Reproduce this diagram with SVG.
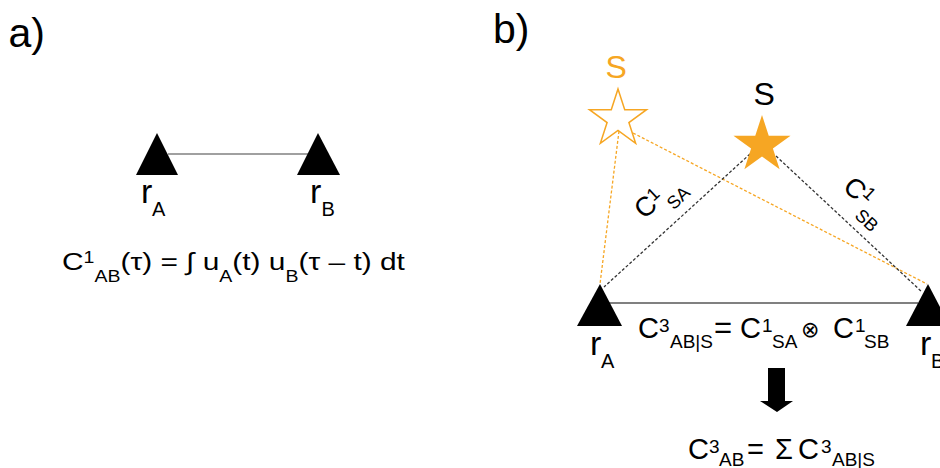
<svg xmlns="http://www.w3.org/2000/svg" width="940" height="468" viewBox="0 0 940 468">
<defs>
<style>
text{font-family:"Liberation Sans","DejaVu Sans",sans-serif;fill:#000}
.panel{font-size:41px}
.r{font-size:34px}
.rs{font-size:20px}
.m{font-size:29px}
.s{font-size:19px}
.orange{fill:#f6a623}
.dash-k{stroke:#333;stroke-width:1.3;stroke-dasharray:3 2;fill:none}
.dash-o{stroke:#f6a623;stroke-width:1.3;stroke-dasharray:3 2;fill:none}
.solid{stroke:#808080;fill:none}
.tri{fill:#000}
</style>
<path id="star" d="M0,-30 L6.74,-9.27 L28.53,-9.27 L10.9,3.54 L17.63,24.27 L0,11.46 L-17.63,24.27 L-10.9,3.54 L-28.53,-9.27 L-6.74,-9.27 Z"/>
</defs>
<rect width="940" height="468" fill="#fff"/>

<text id="label-a" class="panel" x="8.5" y="47">a)</text>
<text id="label-b" class="panel" x="493" y="43">b)</text>

<g id="connectors">
  <path class="solid" stroke-width="1.5" d="M168,154 H308"/>
  <path class="solid" stroke-width="2" d="M608,303 H918"/>
  <path class="dash-o" d="M619,131 L600,284"/>
  <path class="dash-o" d="M633,133 L927,284"/>
  <path class="dash-k" d="M750,154 L604,287"/>
  <path class="dash-k" d="M776,156 L922,292"/>
</g>

<g id="node-rA-a">
  <path class="tri" d="M157,133 L178,175 L136,175 Z"/>
  <text class="r" x="141" y="203">r<tspan class="rs" x="152" y="216">A</tspan></text>
</g>
<g id="node-rB-a">
  <path class="tri" d="M318,133 L340,175 L297,175 Z"/>
  <text class="r" x="310" y="203">r<tspan class="rs" x="321.5" y="216">B</tspan></text>
</g>

<g id="formula-a" transform="translate(62,270) scale(1.22,1)">
  <text font-size="24.5" x="0" y="0">C<tspan font-size="16" y="-7">1</tspan><tspan font-size="16" y="12">AB</tspan><tspan y="0">(τ) = ∫ u</tspan><tspan font-size="16" y="12">A</tspan><tspan y="0">(t) u</tspan><tspan font-size="16" y="12">B</tspan><tspan y="0">(τ – t) dt</tspan></text>
</g>

<g id="node-S-ghost">
  <text class="orange" font-size="32" x="605.5" y="78">S</text>
  <use href="#star" transform="translate(618,119)" fill="#fff" stroke="#f6a623" stroke-width="1.5"/>
</g>
<g id="node-S">
  <text font-size="32" x="753.5" y="105">S</text>
  <use href="#star" transform="translate(762,145)" fill="#f6a623"/>
</g>

<g id="node-rA-b">
  <path class="tri" d="M600,284 L622,326 L577,326 Z"/>
  <text class="r" x="590" y="355">r<tspan class="rs" x="601" y="368">A</tspan></text>
</g>
<g id="node-rB-b">
  <path class="tri" d="M928,284 L950,326 L906,326 Z"/>
  <text class="r" x="920" y="355">r<tspan class="rs" x="931" y="368">B</tspan></text>
</g>

<g id="label-C1SA" transform="translate(644.5,220) rotate(-43)">
  <text font-size="27" x="0" y="0">C<tspan font-size="18" x="19" y="-7">1</tspan><tspan font-size="18" x="28" y="13">SA</tspan></text>
</g>
<g id="label-C1SB" transform="translate(841.8,188.4) rotate(43)">
  <text font-size="27" x="0" y="0">C<tspan font-size="18" x="19" y="-9">1</tspan><tspan font-size="18" x="28" y="12.5">SB</tspan></text>
</g>

<g id="formula-b">
  <text class="m" x="638" y="338">C<tspan class="s" x="659" y="332">3</tspan><tspan class="s" x="670" y="348">AB|S</tspan><tspan x="714" y="338" font-size="31">=</tspan><tspan x="740" y="338">C</tspan><tspan class="s" x="762" y="332">1</tspan><tspan class="s" x="772" y="348">SA</tspan><tspan x="801" y="337" font-size="22" font-family="'DejaVu Sans', sans-serif">⊗</tspan><tspan x="833" y="338">C</tspan><tspan class="s" x="855" y="332">1</tspan><tspan class="s" x="864" y="348">SB</tspan></text>
</g>

<g id="arrow-down">
  <path fill="#000" d="M768,368 H785 V401 H793 L777,412 L760,401 H768 Z"/>
</g>

<g id="formula-sum">
  <text class="m" x="688" y="459">C<tspan class="s" x="709" y="453">3</tspan><tspan class="s" x="719" y="466">AB</tspan><tspan x="747" y="459">=</tspan><tspan x="775" y="459">Σ</tspan><tspan x="798" y="459">C</tspan><tspan class="s" x="821" y="453">3</tspan><tspan class="s" x="832" y="466">AB|S</tspan></text>
</g>
</svg>
